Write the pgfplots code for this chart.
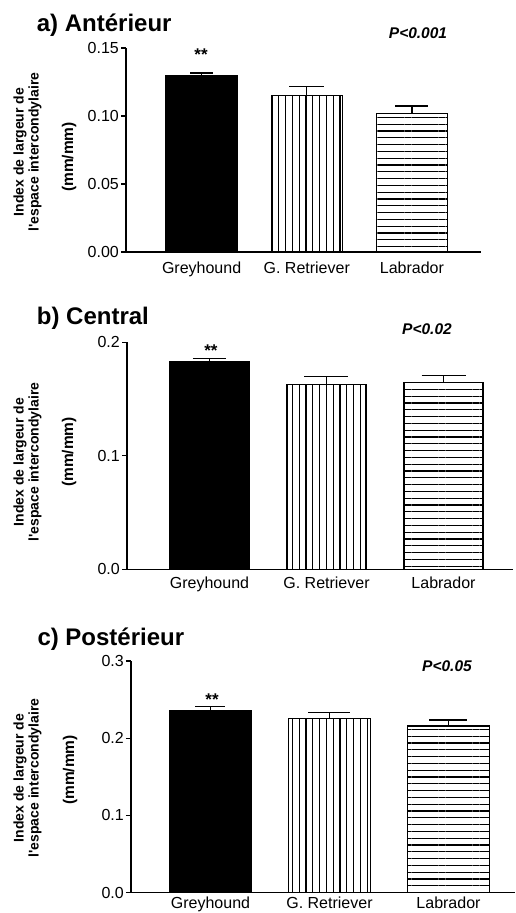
\documentclass[border=0pt]{standalone}
\usepackage{fontspec}
\setmainfont{Liberation Sans}
\usepackage{pgfplots}
\pgfplotsset{compat=1.18}
\usetikzlibrary{patterns.meta}

\pgfplotsset{
  panel/.style={
    scale only axis,
    anchor=south west,
    axis x line=bottom, axis y line=left,
    axis line style={-, line width=1.4pt, black},
    xtick={0,1,2}, xticklabels={Greyhound, G. Retriever, Labrador},
    xtick style={draw=none},
    ytick style={line width=1.4pt, black},
    tick align=outside, major tick length=5pt,
    ymin=0, clip=false,
    scaled y ticks=false,
    /pgf/number format/assume math mode=true,
    ticklabel style={font=\fontsize{16}{18}\selectfont},
    yticklabel style={inner sep=2pt},
  },
  blackbar/.style={ybar, bar shift=0pt, fill=black, draw=black, line width=1.3pt,
    error bars/.cd, y dir=plus, y explicit,
    error bar style={line width=1.3pt, black}},
  vbar/.style={ybar, bar shift=0pt, fill=white, draw=black, line width=1.3pt,
    pattern={Lines[angle=90,distance=6.8pt,line width=1.2pt]}, pattern color=black,
    error bars/.cd, y dir=plus, y explicit,
    error bar style={line width=1.3pt, black}},
  hbar/.style={ybar, bar shift=0pt, fill=white, draw=black, line width=1.3pt,
    pattern={Lines[angle=0,distance=6.8pt,line width=1.2pt]}, pattern color=black,
    error bars/.cd, y dir=plus, y explicit,
    error bar style={line width=1.3pt, black}},
}

\newcommand{\ylab}{\fontsize{14}{15}\selectfont\bfseries}
\newcommand{\ylabb}{\fontsize{15.5}{17}\selectfont\bfseries}
\newcommand{\ttl}{\fontsize{24}{26}\selectfont\bfseries}
\newcommand{\pval}{\fontsize{15.5}{17}\selectfont\bfseries\itshape}
\newcommand{\stars}{\fontsize{17}{18}\selectfont\bfseries}

\begin{document}
\begin{tikzpicture}
\useasboundingbox (0pt,0pt) rectangle (515pt,913pt);

% ---------------- a) Anterieur ----------------
\begin{axis}[panel, at={(126pt,661pt)}, width=355pt, height=204pt,
  xmin=-0.719, xmax=2.657, ymax=0.15, ytick={0,0.05,0.1,0.15},
  yticklabel style={/pgf/number format/fixed, /pgf/number format/fixed zerofill, /pgf/number format/precision=2},
  xticklabel style={anchor=north, inner sep=0pt, yshift=-4.7pt},
  bar width=71pt]
\addplot[blackbar, error mark options={rotate=90, mark size=11.5pt, line width=1.3pt}]
  coordinates {(0,0.1294) +- (0,0.0022)};
\addplot[vbar, error mark options={rotate=90, mark size=17.5pt, line width=1.3pt}]
  coordinates {(1,0.1152) +- (0,0.0063)};
\addplot[hbar, error mark options={rotate=90, mark size=16.5pt, line width=1.3pt}]
  coordinates {(2,0.1020) +- (0,0.0054)};
\end{axis}
\node[anchor=base west, inner sep=0pt, font=\ttl] at (36.7pt,881.3pt) {a) Antérieur};
\node[font=\pval] at (418pt,880pt) {P<0.001};
\node[anchor=base, inner sep=0pt, font=\stars] at (201pt,852.6pt) {**};
\node[rotate=90, align=center, font=\ylab] at (27.5pt,761pt) {Index de largeur de\\l\textquotesingle espace intercondylaire};
\node[rotate=90, font=\ylabb] at (69pt,756pt) {(mm/mm)};

% ---------------- b) Central ----------------
\begin{axis}[panel, at={(127pt,343.7pt)}, width=386pt, height=227pt,
  xmin=-0.705, xmax=2.594, ymax=0.2, ytick={0,0.1,0.2},
  yticklabel style={/pgf/number format/fixed, /pgf/number format/fixed zerofill, /pgf/number format/precision=1},
  xticklabel style={anchor=north, inner sep=0pt, yshift=-2.7pt},
  bar width=79pt]
\addplot[blackbar, error mark options={rotate=90, mark size=16.5pt, line width=1.3pt}]
  coordinates {(0,0.1833) +- (0,0.0023)};
\addplot[vbar, error mark options={rotate=90, mark size=22pt, line width=1.3pt}]
  coordinates {(1,0.1630) +- (0,0.0067)};
\addplot[hbar, error mark options={rotate=90, mark size=22pt, line width=1.3pt}]
  coordinates {(2,0.1644) +- (0,0.0062)};
\end{axis}
\node[anchor=base west, inner sep=0pt, font=\ttl] at (36.7pt,588.7pt) {b) Central};
\node[font=\pval] at (427pt,584pt) {P<0.02};
\node[anchor=base, inner sep=0pt, font=\stars] at (211pt,556.6pt) {**};
\node[rotate=90, align=center, font=\ylab] at (27.5pt,451pt) {Index de largeur de\\l\textquotesingle espace intercondylaire};
\node[rotate=90, font=\ylabb] at (69pt,461pt) {(mm/mm)};

% ---------------- c) Posterieur ----------------
\begin{axis}[panel, at={(131pt,20.3pt)}, width=384pt, height=231.7pt,
  xmin=-0.668, xmax=2.559, ymax=0.3, ytick={0,0.1,0.2,0.3},
  yticklabel style={/pgf/number format/fixed, /pgf/number format/fixed zerofill, /pgf/number format/precision=1},
  xticklabel style={anchor=north, inner sep=0pt, yshift=0.8pt},
  bar width=81.5pt]
\addplot[blackbar, error mark options={rotate=90, mark size=15pt, line width=1.3pt}]
  coordinates {(0,0.2353) +- (0,0.0056)};
\addplot[vbar, error mark options={rotate=90, mark size=21pt, line width=1.3pt}]
  coordinates {(1,0.2258) +- (0,0.0073)};
\addplot[hbar, error mark options={rotate=90, mark size=19pt, line width=1.3pt}]
  coordinates {(2,0.2158) +- (0,0.0078)};
\end{axis}
\node[anchor=base west, inner sep=0pt, font=\ttl] at (37.3pt,267.3pt) {c) Postérieur};
\node[font=\pval] at (447pt,247pt) {P<0.05};
\node[anchor=base, inner sep=0pt, font=\stars] at (212pt,207.6pt) {**};
\node[rotate=90, align=center, font=\ylab] at (27.5pt,135pt) {Index de largeur de\\l\textquotesingle espace intercondylaire};
\node[rotate=90, font=\ylabb] at (70pt,143pt) {(mm/mm)};
\end{tikzpicture}
\end{document}
